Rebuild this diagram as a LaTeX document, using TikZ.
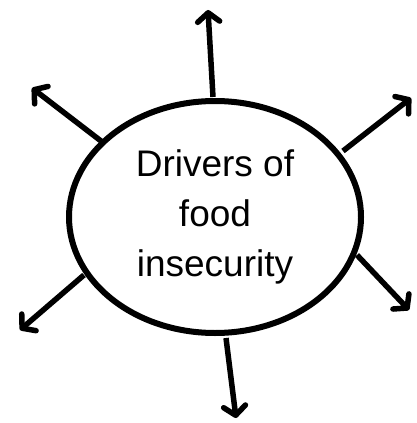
\documentclass[tikz,border=0pt]{standalone}
\usepackage{fontspec}
\setmainfont{Liberation Sans}
\usetikzlibrary{shapes.geometric,arrows.meta}
\begin{document}
\begin{tikzpicture}[x=1pt,y=-1pt,
  hub/.style={ellipse,draw,line width=6pt,minimum width=292pt,minimum height=232pt,inner sep=0pt,align=center,
    font=\fontsize{37pt}{50pt}\selectfont},
  spoke/.style={line width=5.5pt,-{Straight Barb[length=9pt,width=22pt,round]}}]
\useasboundingbox (0,0) rectangle (417,423);
\node[hub] (e) at (215,217) {Drivers of\\food\\insecurity};
\coordinate (t1) at (208,10);
\coordinate (t2) at (32,88);
\coordinate (t3) at (411,98);
\coordinate (t4) at (20,330);
\coordinate (t5) at (409,310);
\coordinate (t6) at (236,418);
\coordinate (s1) at (213,97);
\coordinate (s2) at (101,141);
\coordinate (s3) at (343,151);
\coordinate (s4) at (84,275);
\coordinate (s5) at (357,255);
\coordinate (s6) at (226,338);
\draw[spoke] (s1) -- (t1);
\draw[spoke] (s2) -- (t2);
\draw[spoke] (s3) -- (t3);
\draw[spoke] (s4) -- (t4);
\draw[spoke] (s5) -- (t5);
\draw[spoke] (s6) -- (t6);
\end{tikzpicture}
\end{document}
